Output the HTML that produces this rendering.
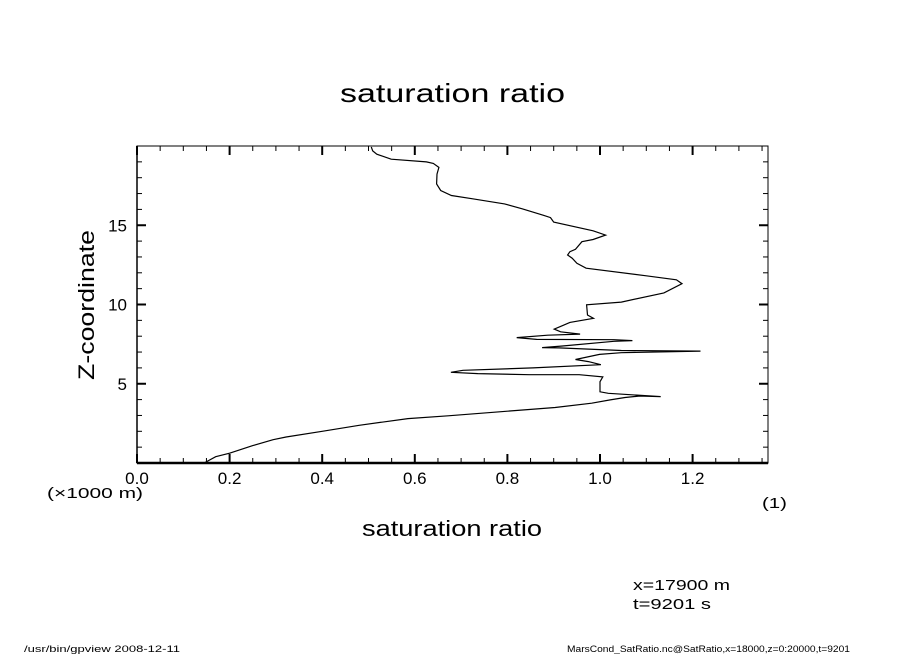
<!DOCTYPE html>
<html><head><meta charset="utf-8"><style>
html,body{margin:0;padding:0;background:#fff;}
svg{display:block;font-family:"Liberation Sans","DejaVu Sans",sans-serif;}
</style></head><body>
<svg id="chart" width="904" height="654" viewBox="0 0 904 654">
<rect width="904" height="654" fill="#fff"/>
<text x="340" y="102" font-size="26" textLength="225" lengthAdjust="spacingAndGlyphs">saturation ratio</text>
<text x="362" y="536" font-size="22" textLength="180" lengthAdjust="spacingAndGlyphs">saturation ratio</text>
<text transform="translate(94,380) rotate(-90)" font-size="22" textLength="150" lengthAdjust="spacingAndGlyphs">Z-coordinate</text>
<text x="47" y="498" font-size="15" textLength="96" lengthAdjust="spacingAndGlyphs">(×1000 m)</text>
<text x="762" y="508" font-size="15" textLength="25" lengthAdjust="spacingAndGlyphs">(1)</text>
<text x="633" y="590" font-size="15" textLength="97" lengthAdjust="spacingAndGlyphs">x=17900 m</text>
<text x="633" y="609" font-size="15" textLength="78" lengthAdjust="spacingAndGlyphs">t=9201 s</text>
<text x="24" y="652" font-size="9" textLength="156" lengthAdjust="spacingAndGlyphs">/usr/bin/gpview   2008-12-11</text>
<text x="567" y="652" font-size="9" textLength="283" lengthAdjust="spacingAndGlyphs">MarsCond_SatRatio.nc@SatRatio,x=18000,z=0:20000,t=9201</text>
<g id="axes"></g>
<g id="series"></g>
</svg>
<script>
const xTickValues=[0.0,0.2,0.4,0.6,0.8,1.0,1.2];
const xTickLabels=["0.0","0.2","0.4","0.6","0.8","1.0","1.2"];
const yTickValues=[5,10,15];
const yTickLabels=["5","10","15"];
const ratioValues=[0.145,0.17,0.2,0.25,0.294,0.322,0.40,0.48,0.585,0.672,0.783,0.903,0.982,1.022,1.054,1.086,1.131,1.018,1.0,1.0,1.006,0.955,0.847,0.736,0.678,0.704,0.855,1.002,0.975,0.947,0.999,1.046,1.217,1.046,0.911,0.875,0.919,1.03,1.07,1.03,0.863,0.82,0.887,0.957,0.915,0.901,0.915,0.935,0.986,0.973,0.971,1.046,1.138,1.177,1.165,1.10,0.97,0.95,0.94,0.93,0.935,0.947,0.961,0.985,1.012,0.985,0.90,0.893,0.878,0.832,0.794,0.725,0.679,0.656,0.647,0.648,0.652,0.64,0.625,0.549,0.518,0.509,0.506];
const heightValues=[0,0.4,0.62,1.1,1.47,1.64,2.0,2.38,2.8,2.98,3.23,3.5,3.77,3.98,4.13,4.23,4.19,4.4,4.49,5.13,5.43,5.57,5.57,5.64,5.72,5.85,6.0,6.2,6.4,6.53,6.85,6.96,7.06,7.1,7.26,7.28,7.38,7.68,7.72,7.78,7.8,7.91,8.06,8.13,8.28,8.45,8.62,8.87,9.13,9.34,9.98,10.15,10.73,11.31,11.56,11.81,12.29,12.6,12.92,13.12,13.33,13.48,13.96,14.1,14.38,14.65,15.2,15.48,15.63,16.04,16.35,16.67,16.88,17.19,17.6,18.23,18.65,18.9,19.0,19.17,19.48,19.69,19.94];
const NS="http://www.w3.org/2000/svg";
const X0=137,X1=768,Y0=463,Y1=146,XMAX=(768-137)/463,YMAX=20.0;
function xs(v){return X0+v/XMAX*(X1-X0);}
function ys(v){return Y0-v/YMAX*(Y0-Y1);}
function mk(tag,attrs,parent){const e=document.createElementNS(NS,tag);for(const k in attrs)e.setAttribute(k,attrs[k]);parent.appendChild(e);return e;}
const axes=document.getElementById('axes');
const frame=mk('rect',{x:X0,y:Y1,width:X1-X0,height:Y0-Y1,fill:'none',stroke:'#000','stroke-width':1},axes);


const bot=mk('line',{x1:X0,y1:Y0,x2:X1,y2:Y0,stroke:'#000','stroke-width':2.5},axes);


const lft=mk('line',{x1:X0,y1:Y1,x2:X0,y2:Y0,stroke:'#000','stroke-width':1.5},axes);


for(let v=0;v<=XMAX+1e-9;v+=0.05){
  const major=Math.abs(v/0.2-Math.round(v/0.2))<1e-6;
  const L=major?9:5,w=major?2:1,x=xs(v);
  const t1=mk('line',{x1:x,y1:Y0,x2:x,y2:Y0-L,stroke:'#000','stroke-width':w},axes);
  
  
  const t2=mk('line',{x1:x,y1:Y1,x2:x,y2:Y1+L,stroke:'#000','stroke-width':w},axes);
  
  
}
for(let v=1;v<YMAX;v+=1){
  const major=v%5===0,L=major?9:5,w=major?2:1,y=ys(v);
  const t1=mk('line',{x1:X0,y1:y,x2:X0+L,y2:y,stroke:'#000','stroke-width':w},axes);
  
  
  const t2=mk('line',{x1:X1,y1:y,x2:X1-L,y2:y,stroke:'#000','stroke-width':w},axes);
  
  
}
xTickValues.forEach((v,i)=>{
  const t=mk('text',{x:xs(v),y:484,'font-size':17,'text-anchor':'middle'},axes);
  t.textContent=xTickLabels[i];
  
  
});
yTickValues.forEach((v,i)=>{
  const t=mk('text',{x:127,y:ys(v)+6,'font-size':17,'text-anchor':'end'},axes);
  t.textContent=yTickLabels[i];
  
  
});
const pts=ratioValues.map((r,i)=>xs(r).toFixed(1)+','+ys(heightValues[i]).toFixed(1)).join(' ');
const line=mk('polyline',{points:pts,fill:'none',stroke:'#000','stroke-width':1.2},document.getElementById('series'));


</script>
</body></html>
